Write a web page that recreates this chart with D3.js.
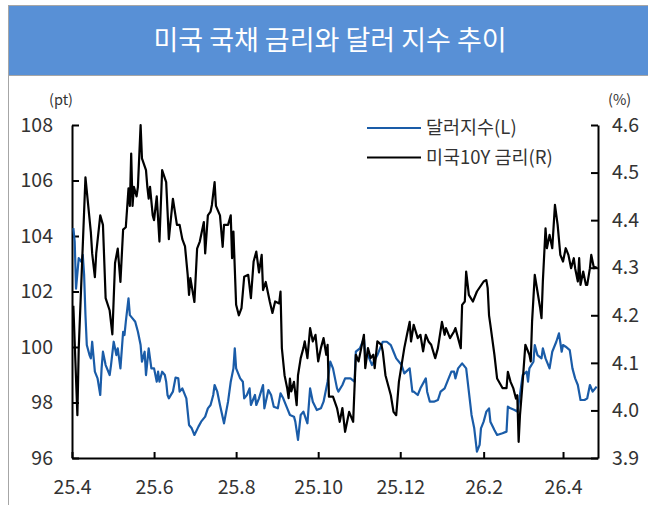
<!DOCTYPE html>
<html>
<head>
<meta charset="utf-8">
<script src="https://cdn.jsdelivr.net/npm/d3@7"></script>
<style>
  body { margin: 0; background: #fff; }
  svg { display: block; font-family: 'Noto Sans CJK KR', 'Noto Sans', sans-serif; }
</style>
</head>
<body>
<div id="chart"></div>
<script>
// chart text
let title = '미국 국채 금리와 달러 지수 추이';
let seriesNames = ['달러지수(L)', '미국10Y 금리(R)'];
let unitLeft = '(pt)';
let unitRight = '(%)';

// axis ticks
let leftTicks = [96, 98, 100, 102, 104, 106, 108];
let rightTicks = [3.9, 4.0, 4.1, 4.2, 4.3, 4.4, 4.5, 4.6];
let monthTicks = ['2025-04-01', '2025-06-01', '2025-08-01', '2025-10-01', '2025-12-01', '2026-02-01', '2026-04-01'];

// dollar index (left axis)
let dxyDates = ['2025-04-02','2025-04-03','2025-04-04','2025-04-06','2025-04-08','2025-04-09','2025-04-10','2025-04-11','2025-04-12','2025-04-14',
  '2025-04-15','2025-04-16','2025-04-18','2025-04-20','2025-04-22','2025-04-23','2025-04-24','2025-04-26','2025-04-27','2025-04-29',
  '2025-04-30','2025-05-02','2025-05-04','2025-05-05','2025-05-07','2025-05-09','2025-05-10','2025-05-11','2025-05-13','2025-05-14',
  '2025-05-16','2025-05-18','2025-05-20','2025-05-22','2025-05-23','2025-05-25','2025-05-26','2025-05-28','2025-05-30','2025-06-01',
  '2025-06-03','2025-06-04','2025-06-05','2025-06-07','2025-06-09','2025-06-10','2025-06-11','2025-06-12','2025-06-15','2025-06-17',
  '2025-06-19','2025-06-20','2025-06-22','2025-06-25','2025-06-27','2025-06-29','2025-07-01','2025-07-04','2025-07-06','2025-07-09',
  '2025-07-11','2025-07-13','2025-07-15','2025-07-16','2025-07-18','2025-07-20','2025-07-23','2025-07-26','2025-07-28','2025-07-30',
  '2025-07-31','2025-08-01','2025-08-04','2025-08-06','2025-08-07','2025-08-09','2025-08-11','2025-08-12','2025-08-15','2025-08-16',
  '2025-08-18','2025-08-21','2025-08-22','2025-08-25','2025-08-27','2025-08-29','2025-09-01','2025-09-03','2025-09-05','2025-09-08',
  '2025-09-10','2025-09-13','2025-09-14','2025-09-16','2025-09-18','2025-09-20','2025-09-23','2025-09-25','2025-09-27','2025-09-30',
  '2025-10-03','2025-10-05','2025-10-08','2025-10-10','2025-10-12','2025-10-15','2025-10-16','2025-10-19','2025-10-21','2025-10-25',
  '2025-10-28','2025-10-29','2025-11-01','2025-11-04','2025-11-05','2025-11-07','2025-11-10','2025-11-14','2025-11-16','2025-11-18',
  '2025-11-21','2025-11-24','2025-11-26','2025-11-28','2025-12-02','2025-12-04','2025-12-08','2025-12-10','2025-12-11','2025-12-14',
  '2025-12-16','2025-12-20','2025-12-21','2025-12-23','2025-12-26','2025-12-29','2025-12-31','2026-01-03','2026-01-05','2026-01-08',
  '2026-01-10','2026-01-11','2026-01-13','2026-01-16','2026-01-19','2026-01-21','2026-01-23','2026-01-25','2026-01-27','2026-01-29',
  '2026-01-30','2026-02-01','2026-02-03','2026-02-05','2026-02-06','2026-02-09','2026-02-11','2026-02-15','2026-02-18','2026-02-19',
  '2026-02-21','2026-02-24','2026-02-26','2026-02-28','2026-03-02','2026-03-05','2026-03-06','2026-03-07','2026-03-10','2026-03-11',
  '2026-03-13','2026-03-16','2026-03-17','2026-03-19','2026-03-22','2026-03-24','2026-03-27','2026-03-29','2026-03-31','2026-04-01',
  '2026-04-03','2026-04-06','2026-04-08','2026-04-10','2026-04-12','2026-04-14','2026-04-17','2026-04-19','2026-04-21','2026-04-23',
  '2026-04-26'];
let dxyValues = [104.28,103.8,102.1,103.2,103.07,103.32,102.6,101.15,100.07,99.71,
  99.59,100.19,99.11,98.87,98.27,99.23,99.83,99.35,99.23,98.99,
  99.35,100.19,99.71,99.95,99.23,100.55,100.43,100.91,101.75,101.15,
  101.03,100.91,100.55,100.07,99.47,99.83,98.99,99.95,99.23,99.23,
  98.75,99.11,98.75,99.11,98.99,98.75,98.27,98.15,98.39,98.9,
  98.87,98.39,98.51,98.15,97.19,97.07,96.83,97.13,97.31,97.49,
  97.79,97.91,98.27,98.63,98.39,97.91,97.25,98.03,98.75,99.23,
  99.95,99.23,98.87,98.75,98.15,98.27,98.51,97.91,98.27,97.91,
  98.15,98.63,97.79,98.45,98.27,97.85,97.79,98.33,98.15,97.79,
  97.55,97.49,97.31,96.65,97.55,97.67,97.25,98.51,98.03,97.73,
  97.79,98.03,98.75,99.47,99.23,98.51,98.39,98.63,98.87,98.87,
  98.75,99.83,99.95,100.31,99.71,99.71,99.35,99.71,99.95,100.19,
  100.19,100.07,99.83,99.59,99.35,99.05,99.23,98.39,98.39,98.27,
  98.51,98.87,98.39,98.03,98.03,98.09,98.39,98.51,98.75,99.11,
  99.11,98.87,99.23,99.41,99.23,98.39,97.55,97.07,96.23,96.47,
  97.07,97.31,97.67,97.79,97.31,97.01,96.83,96.89,96.95,97.85,
  97.79,97.73,97.67,98.27,98.99,99.11,98.75,99.23,99.47,100.07,
  99.71,99.59,99.95,99.59,99.23,99.83,100.19,100.49,99.83,100.07,
  100.01,99.89,99.23,98.87,98.63,98.09,98.09,98.15,98.63,98.39,
  98.57];

// US 10Y yield (right axis)
let rateDates = ['2025-04-02','2025-04-05','2025-04-06','2025-04-11','2025-04-15','2025-04-16','2025-04-18','2025-04-19','2025-04-22','2025-04-24',
  '2025-04-26','2025-04-29','2025-05-01','2025-05-03','2025-05-05','2025-05-07','2025-05-09','2025-05-11','2025-05-13','2025-05-14',
  '2025-05-15','2025-05-16','2025-05-17','2025-05-19','2025-05-20','2025-05-22','2025-05-23','2025-05-26','2025-05-27','2025-05-28',
  '2025-05-29','2025-05-31','2025-06-01','2025-06-03','2025-06-05','2025-06-07','2025-06-10','2025-06-12','2025-06-15','2025-06-18',
  '2025-06-20','2025-06-22','2025-06-24','2025-06-26','2025-06-27','2025-06-28','2025-07-01','2025-07-03','2025-07-05','2025-07-08',
  '2025-07-09','2025-07-11','2025-07-13','2025-07-14','2025-07-16','2025-07-17','2025-07-20','2025-07-22','2025-07-23','2025-07-26',
  '2025-07-28','2025-07-29','2025-07-30','2025-08-01','2025-08-03','2025-08-05','2025-08-07','2025-08-10','2025-08-12','2025-08-14',
  '2025-08-16','2025-08-18','2025-08-20','2025-08-21','2025-08-23','2025-08-26','2025-08-28','2025-08-30','2025-09-02','2025-09-03',
  '2025-09-04','2025-09-06','2025-09-08','2025-09-09','2025-09-10','2025-09-11','2025-09-13','2025-09-15','2025-09-16','2025-09-18',
  '2025-09-20','2025-09-21','2025-09-23','2025-09-25','2025-09-27','2025-09-29','2025-10-01','2025-10-03','2025-10-05','2025-10-07',
  '2025-10-08','2025-10-09','2025-10-12','2025-10-15','2025-10-17','2025-10-19','2025-10-21','2025-10-24','2025-10-27','2025-10-29',
  '2025-10-31','2025-11-02','2025-11-04','2025-11-05','2025-11-07','2025-11-09','2025-11-11','2025-11-12','2025-11-14','2025-11-17',
  '2025-11-18','2025-11-20','2025-11-24','2025-11-26','2025-11-28','2025-11-30','2025-12-04','2025-12-06','2025-12-08','2025-12-09',
  '2025-12-11','2025-12-14','2025-12-16','2025-12-18','2025-12-20','2025-12-22','2025-12-24','2025-12-27','2025-12-29','2026-01-01',
  '2026-01-03','2026-01-04','2026-01-07','2026-01-10','2026-01-11','2026-01-15','2026-01-16','2026-01-18','2026-01-19','2026-01-21',
  '2026-01-24','2026-01-27','2026-02-01','2026-02-03','2026-02-04','2026-02-05','2026-02-06','2026-02-09','2026-02-11','2026-02-15',
  '2026-02-18','2026-02-19','2026-02-21','2026-02-23','2026-02-25','2026-02-26','2026-02-27','2026-02-28','2026-03-02','2026-03-04',
  '2026-03-07','2026-03-08','2026-03-09','2026-03-11','2026-03-13','2026-03-15','2026-03-16','2026-03-17','2026-03-19','2026-03-20',
  '2026-03-22','2026-03-24','2026-03-26','2026-03-28','2026-03-30','2026-04-01','2026-04-03','2026-04-05','2026-04-07','2026-04-09',
  '2026-04-10','2026-04-12','2026-04-13','2026-04-14','2026-04-16','2026-04-18','2026-04-19','2026-04-21','2026-04-22','2026-04-24',
  '2026-04-26'];
let rateValues = [4.22,3.99,4.13,4.49,4.375,4.33,4.28,4.33,4.41,4.39,
  4.236,4.21,4.16,4.31,4.34,4.27,4.38,4.385,4.467,4.43,
  4.54,4.43,4.47,4.45,4.47,4.60,4.53,4.505,4.47,4.445,
  4.47,4.41,4.40,4.45,4.355,4.505,4.48,4.36,4.445,4.39,
  4.39,4.36,4.345,4.285,4.243,4.278,4.228,4.34,4.355,4.396,
  4.33,4.41,4.418,4.432,4.48,4.43,4.41,4.344,4.39,4.39,
  4.41,4.32,4.376,4.222,4.20,4.215,4.281,4.285,4.236,4.313,
  4.334,4.29,4.327,4.253,4.27,4.229,4.205,4.229,4.225,4.25,
  4.131,4.074,4.046,4.026,4.067,4.04,4.06,4.011,4.074,4.11,
  4.131,4.145,4.11,4.173,4.145,4.159,4.103,4.131,4.152,4.117,
  4.138,4.029,4.029,4.005,3.976,4.005,3.955,3.997,3.976,4.117,
  4.103,4.131,4.159,4.089,4.131,4.11,4.117,4.089,4.145,4.138,
  4.124,4.074,4.032,3.997,3.99,4.06,4.131,4.159,4.186,4.145,
  4.18,4.152,4.159,4.124,4.159,4.145,4.138,4.11,4.131,4.186,
  4.159,4.173,4.152,4.166,4.173,4.131,4.222,4.229,4.292,4.243,
  4.229,4.25,4.271,4.274,4.257,4.20,4.18,4.117,4.067,4.047,
  4.047,4.081,4.06,4.047,4.025,4.032,3.934,3.99,4.06,4.138,
  4.117,4.103,4.187,4.285,4.25,4.215,4.194,4.271,4.383,4.341,
  4.369,4.341,4.432,4.39,4.327,4.313,4.341,4.327,4.299,4.32,
  4.299,4.271,4.32,4.264,4.292,4.264,4.264,4.299,4.327,4.299,
  4.302];

let colors = ['#1a5ca8', '#000000'];

let width = 648;
let height = 505;
let plot = {left: 72, right: 598, top: 125, bottom: 458};

let parse = d3.timeParse('%Y-%m-%d');
let dxy = dxyDates.map((d, i) => ({date: parse(d), value: dxyValues[i]}));
let rate = rateDates.map((d, i) => ({date: parse(d), value: rateValues[i]}));

let svg = d3.select('#chart').append('svg').attr('width', width).attr('height', height);

//title bar and frame
svg.append('rect').attr('x', 8.5).attr('y', 5.5).attr('width', width).attr('height', 70)
  .attr('fill', '#5890d6').attr('stroke', '#a6a6a6').attr('stroke-width', 1);
svg.append('line').attr('x1', 8.5).attr('x2', 8.5).attr('y1', 5).attr('y2', height)
  .attr('stroke', '#a6a6a6').attr('stroke-width', 1);
svg.append('text').text(title).attr('x', 330).attr('y', 50).attr('text-anchor', 'middle')
  .attr('fill', '#fff').style('font-size', '27px').style('font-weight', 400);

//scales
let x = d3.scaleTime().domain([parse('2025-04-01'), parse('2026-04-27')]).range([plot.left, plot.right]);
let yL = d3.scaleLinear().domain([96, 108]).range([plot.bottom, plot.top]);
let yR = d3.scaleLinear().domain([3.9, 4.6]).range([plot.bottom, plot.top]);

//axes
function styleAxis(g) {
  g.select('.domain').attr('stroke', '#000').attr('stroke-width', 2);
  g.selectAll('.tick line').attr('stroke', '#000').attr('stroke-width', 2);
  g.selectAll('.tick text').attr('fill', '#333').style('font-size', '19.5px').style('font-family', "'Noto Sans CJK KR', sans-serif");
}

svg.append('g').attr('transform', `translate(${plot.left},0)`)
  .call(d3.axisLeft(yL).tickValues(leftTicks).tickSize(-7).tickSizeOuter(0).tickPadding(19))
  .call(styleAxis);

svg.append('g').attr('transform', `translate(${plot.right},0)`)
  .call(d3.axisRight(yR).tickValues(rightTicks).tickSize(-7).tickSizeOuter(0).tickPadding(14).tickFormat(d3.format('.1f')))
  .call(styleAxis);

svg.append('g').attr('transform', `translate(0,${plot.bottom})`)
  .call(d3.axisBottom(x).tickValues(monthTicks.map(parse)).tickSize(-6).tickSizeOuter(0).tickPadding(22).tickFormat(d3.timeFormat('%y.%-m')))
  .call(styleAxis);

//units, kept just above the top tick labels
svg.append('text').text(unitLeft).attr('x', 73).attr('y', 105).attr('text-anchor', 'end')
  .attr('fill', '#333').style('font-size', '14.5px');
svg.append('text').text(unitRight).attr('x', 608).attr('y', 105)
  .attr('fill', '#333').style('font-size', '14.5px');

//lines
let lineL = d3.line().x(d => x(d.date)).y(d => yL(d.value));
let lineR = d3.line().x(d => x(d.date)).y(d => yR(d.value));

svg.append('path').datum(dxy).attr('d', lineL).attr('fill', 'none')
  .attr('stroke', colors[0]).attr('stroke-width', 2.2).attr('stroke-linejoin', 'round');
svg.append('path').datum(rate).attr('d', lineR).attr('fill', 'none')
  .attr('stroke', colors[1]).attr('stroke-width', 2.2).attr('stroke-linejoin', 'round');

//legend
seriesNames.forEach((name, i) => {
  let ly = 128 + i * 29.5;
  svg.append('line').attr('x1', 367).attr('x2', 421).attr('y1', ly).attr('y2', ly)
    .attr('stroke', colors[i]).attr('stroke-width', 2.2);
  svg.append('text').text(name).attr('x', 426).attr('y', ly).attr('dy', '0.35em')
    .attr('fill', '#333').style('font-size', '18.5px');
});
</script>
</body>
</html>
